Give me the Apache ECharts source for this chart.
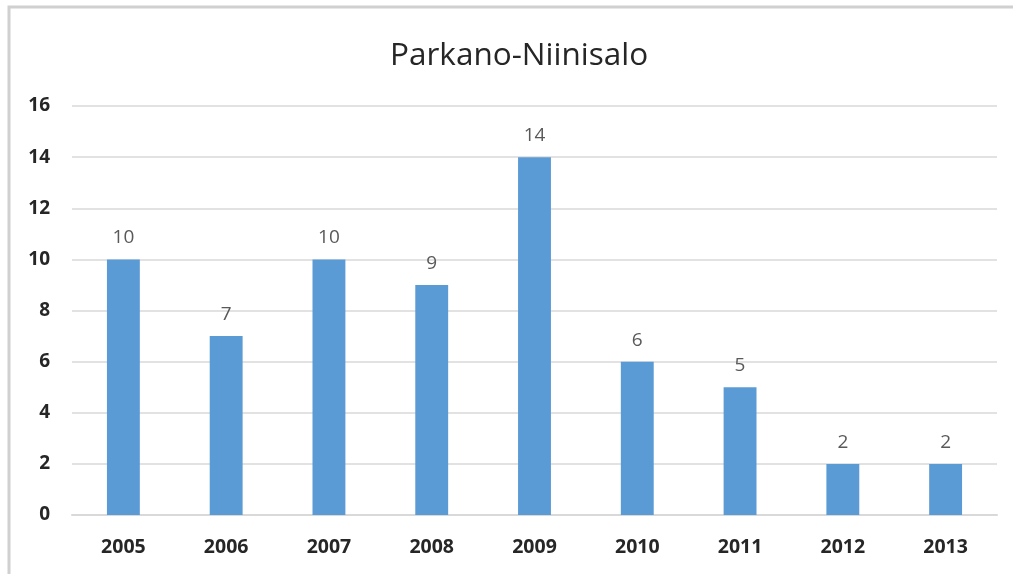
<!DOCTYPE html>
<html><head><meta charset="utf-8">
<script src="https://cdn.jsdelivr.net/npm/echarts@6/dist/echarts.min.js"></script>
<style>html,body{margin:0;padding:0;background:#fff;}#c{width:1013px;height:574px;}</style>
</head><body><div id="c"></div>
<script>
const categories = ['2005','2006','2007','2008','2009','2010','2011','2012','2013'];
const values = [10,7,10,9,14,6,5,2,2];
const yTicks = {min:0, max:16, interval:2};
const titleText = 'Parkano-Niinisalo';

const chart = echarts.init(document.getElementById('c'), null, {renderer:'canvas'});
chart.setOption({
  animation:false,
  backgroundColor:'#fff',
  graphic:[{type:'rect', shape:{x:9, y:7, width:1100, height:700}, style:{fill:'none', stroke:'#d0d0d0', lineWidth:3}, silent:true}],
  title:{text:titleText, left:385, top:35, textStyle:{fontFamily:'Open Sans', fontSize:31.5, fontWeight:'normal', color:'#262626'}},
  grid:{left:72, right:16, top:106, bottom:59, containLabel:false},
  xAxis:{type:'category', data:categories,
    axisLine:{show:true, lineStyle:{color:'#d9d9d9', width:2}}, axisTick:{show:false},
    axisLabel:{fontFamily:'Open Sans', fontSize:19.5, fontWeight:'bold', color:'#262626', margin:22}},
  yAxis:{type:'value', min:yTicks.min, max:yTicks.max, interval:yTicks.interval,
    axisLine:{show:false}, axisTick:{show:false},
    splitLine:{lineStyle:{color:'#d9d9d9', width:1.5}},
    axisLabel:{fontFamily:'Open Sans', fontSize:19, fontWeight:'bold', color:'#262626', margin:22}},
  series:[{type:'bar', data:values, barWidth:'32%', itemStyle:{color:'#5b9bd5'},
    label:{show:true, position:'top', distance:12, fontFamily:'Open Sans', fontSize:19, color:'#595959'}}]
});
</script></body></html>
